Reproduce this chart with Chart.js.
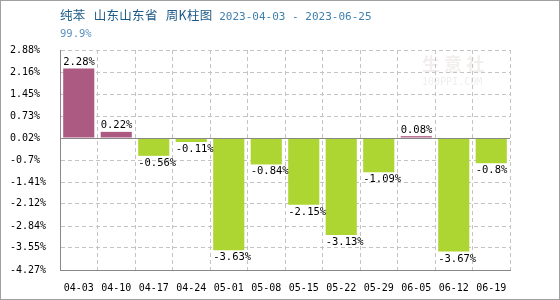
<!DOCTYPE html>
<html lang="zh">

<head>
    <meta charset="UTF-8" />
    <title>纯苯 周K柱图</title>
    <script src="https://cdn.jsdelivr.net/npm/chart.js"></script>
    <style>
        body {
            margin: 0;
            background: #fff;
        }

        .wrap {
            position: relative;
            width: 560px;
            height: 300px;
        }

        .frame {
            position: absolute;
            left: 0;
            top: 0;
            width: 560px;
            height: 300px;
            box-sizing: border-box;
            border: 1px solid #a0a0a0;
            pointer-events: none;
        }

        .title {
            position: absolute;
            left: 60px;
            top: 6px;
            font-family: "DejaVu Sans Mono", monospace;
            font-size: 11px;
            color: #3d7fae;
            white-space: pre;
            line-height: 18px;
        }

        .title .cn {
            font-family: "Noto Sans CJK SC", sans-serif;
            font-size: 12.5px;
            letter-spacing: 0.3px;
            word-spacing: 5px;
            color: #1c5a87;
        }

        .sub {
            position: absolute;
            left: 60px;
            top: 27px;
            font-family: "DejaVu Sans Mono", monospace;
            font-size: 10.5px;
            color: #5a8fc0;
        }
    </style>
</head>

<body>
    <div class="wrap">
        <canvas id="bars"></canvas>
        <div class="title"><span class="cn">纯苯 山东山东省 周K柱图</span> 2023-04-03 - 2023-06-25</div>
        <div class="sub">99.9%</div>
        <div class="frame"></div>
    </div>

    <script>
        const weeks = ['04-03', '04-10', '04-17', '04-24', '05-01', '05-08', '05-15', '05-22', '05-29', '06-05', '06-12', '06-19'];
        const changes = [2.28, 0.22, -0.56, -0.11, -3.63, -0.84, -2.15, -3.13, -1.09, 0.08, -3.67, -0.8];
        const yTicks = [2.88, 2.16, 1.45, 0.73, 0.02, -0.7, -1.41, -2.12, -2.84, -3.55, -4.27];

        const UP = '#ad5a82';
        const DOWN = '#add633';
        const MONO = '"DejaVu Sans Mono", monospace';

        // solid base line + value labels + faint watermark
        const extras = {
            id: 'extras',
            beforeDatasetsDraw(chart) {
                const { ctx } = chart;
                ctx.save();
                ctx.fillStyle = 'rgba(215, 200, 200, 0.3)';
                ctx.font = 'bold 18px "Noto Sans CJK SC"';
                ctx.textBaseline = 'middle';
                ctx.fillText('生 意 社', 422, 64);
                ctx.fillStyle = 'rgba(200, 200, 200, 0.3)';
                ctx.font = '10px ' + MONO;
                ctx.fillText('100PPI.COM', 422, 82);
                ctx.restore();
            },
            afterDatasetsDraw(chart) {
                const { ctx, chartArea, scales } = chart;
                const y0 = Math.round(scales.y.getPixelForValue(0.02)) + 0.5;
                ctx.save();
                ctx.strokeStyle = '#888';
                ctx.lineWidth = 1;
                ctx.beginPath();
                ctx.moveTo(chartArea.left, y0);
                ctx.lineTo(chartArea.right, y0);
                ctx.stroke();

                ctx.fillStyle = '#000';
                ctx.font = '10.5px ' + MONO;
                ctx.textAlign = 'left';
                chart.getDatasetMeta(0).data.forEach((bar, i) => {
                    const v = changes[i];
                    const x = bar.x - bar.width / 2;
                    if (v >= 0) {
                        ctx.textBaseline = 'bottom';
                        ctx.fillText(v + '%', x, bar.y - 1);
                    } else {
                        ctx.textBaseline = 'top';
                        ctx.fillText(v + '%', x, bar.y + 2);
                    }
                });
                ctx.restore();
            }
        };

        new Chart(document.getElementById('bars'), {
            type: 'bar',
            data: {
                labels: weeks,
                datasets: [{
                    data: changes,
                    backgroundColor: changes.map(v => v >= 0 ? UP : DOWN),
                    borderWidth: 0,
                    barPercentage: 0.83,
                    categoryPercentage: 1,
                    base: 0.02
                }]
            },
            options: {
                responsive: true,
                maintainAspectRatio: false,
                animation: false,
                layout: {
                    padding: { left: 10, right: 50, top: 50, bottom: 0 }
                },
                plugins: {
                    legend: { display: false },
                    tooltip: { enabled: false }
                },
                scales: {
                    x: {
                        grid: {
                            offset: true,
                            color: '#c4c4c4',
                            drawTicks: false
                        },
                        border: { color: '#888', dash: [4, 3] },
                        ticks: {
                            color: '#000',
                            font: { family: MONO, size: 10 },
                            padding: 12,
                            maxRotation: 0,
                            autoSkip: false
                        },
                        afterFit(scale) { scale.height = 30; }
                    },
                    y: {
                        min: -4.27,
                        max: 2.88,
                        afterBuildTicks(scale) {
                            scale.ticks = yTicks.map(v => ({ value: v }));
                        },
                        grid: {
                            color: '#c4c4c4',
                            drawTicks: false
                        },
                        border: { color: '#888', dash: [4, 3] },
                        ticks: {
                            color: '#000',
                            font: { family: MONO, size: 10 },
                            crossAlign: 'far',
                            callback: v => v + '%'
                        },
                        afterFit(scale) { scale.width = 50; }
                    }
                }
            },
            plugins: [extras]
        });
    </script>
</body>

</html>
